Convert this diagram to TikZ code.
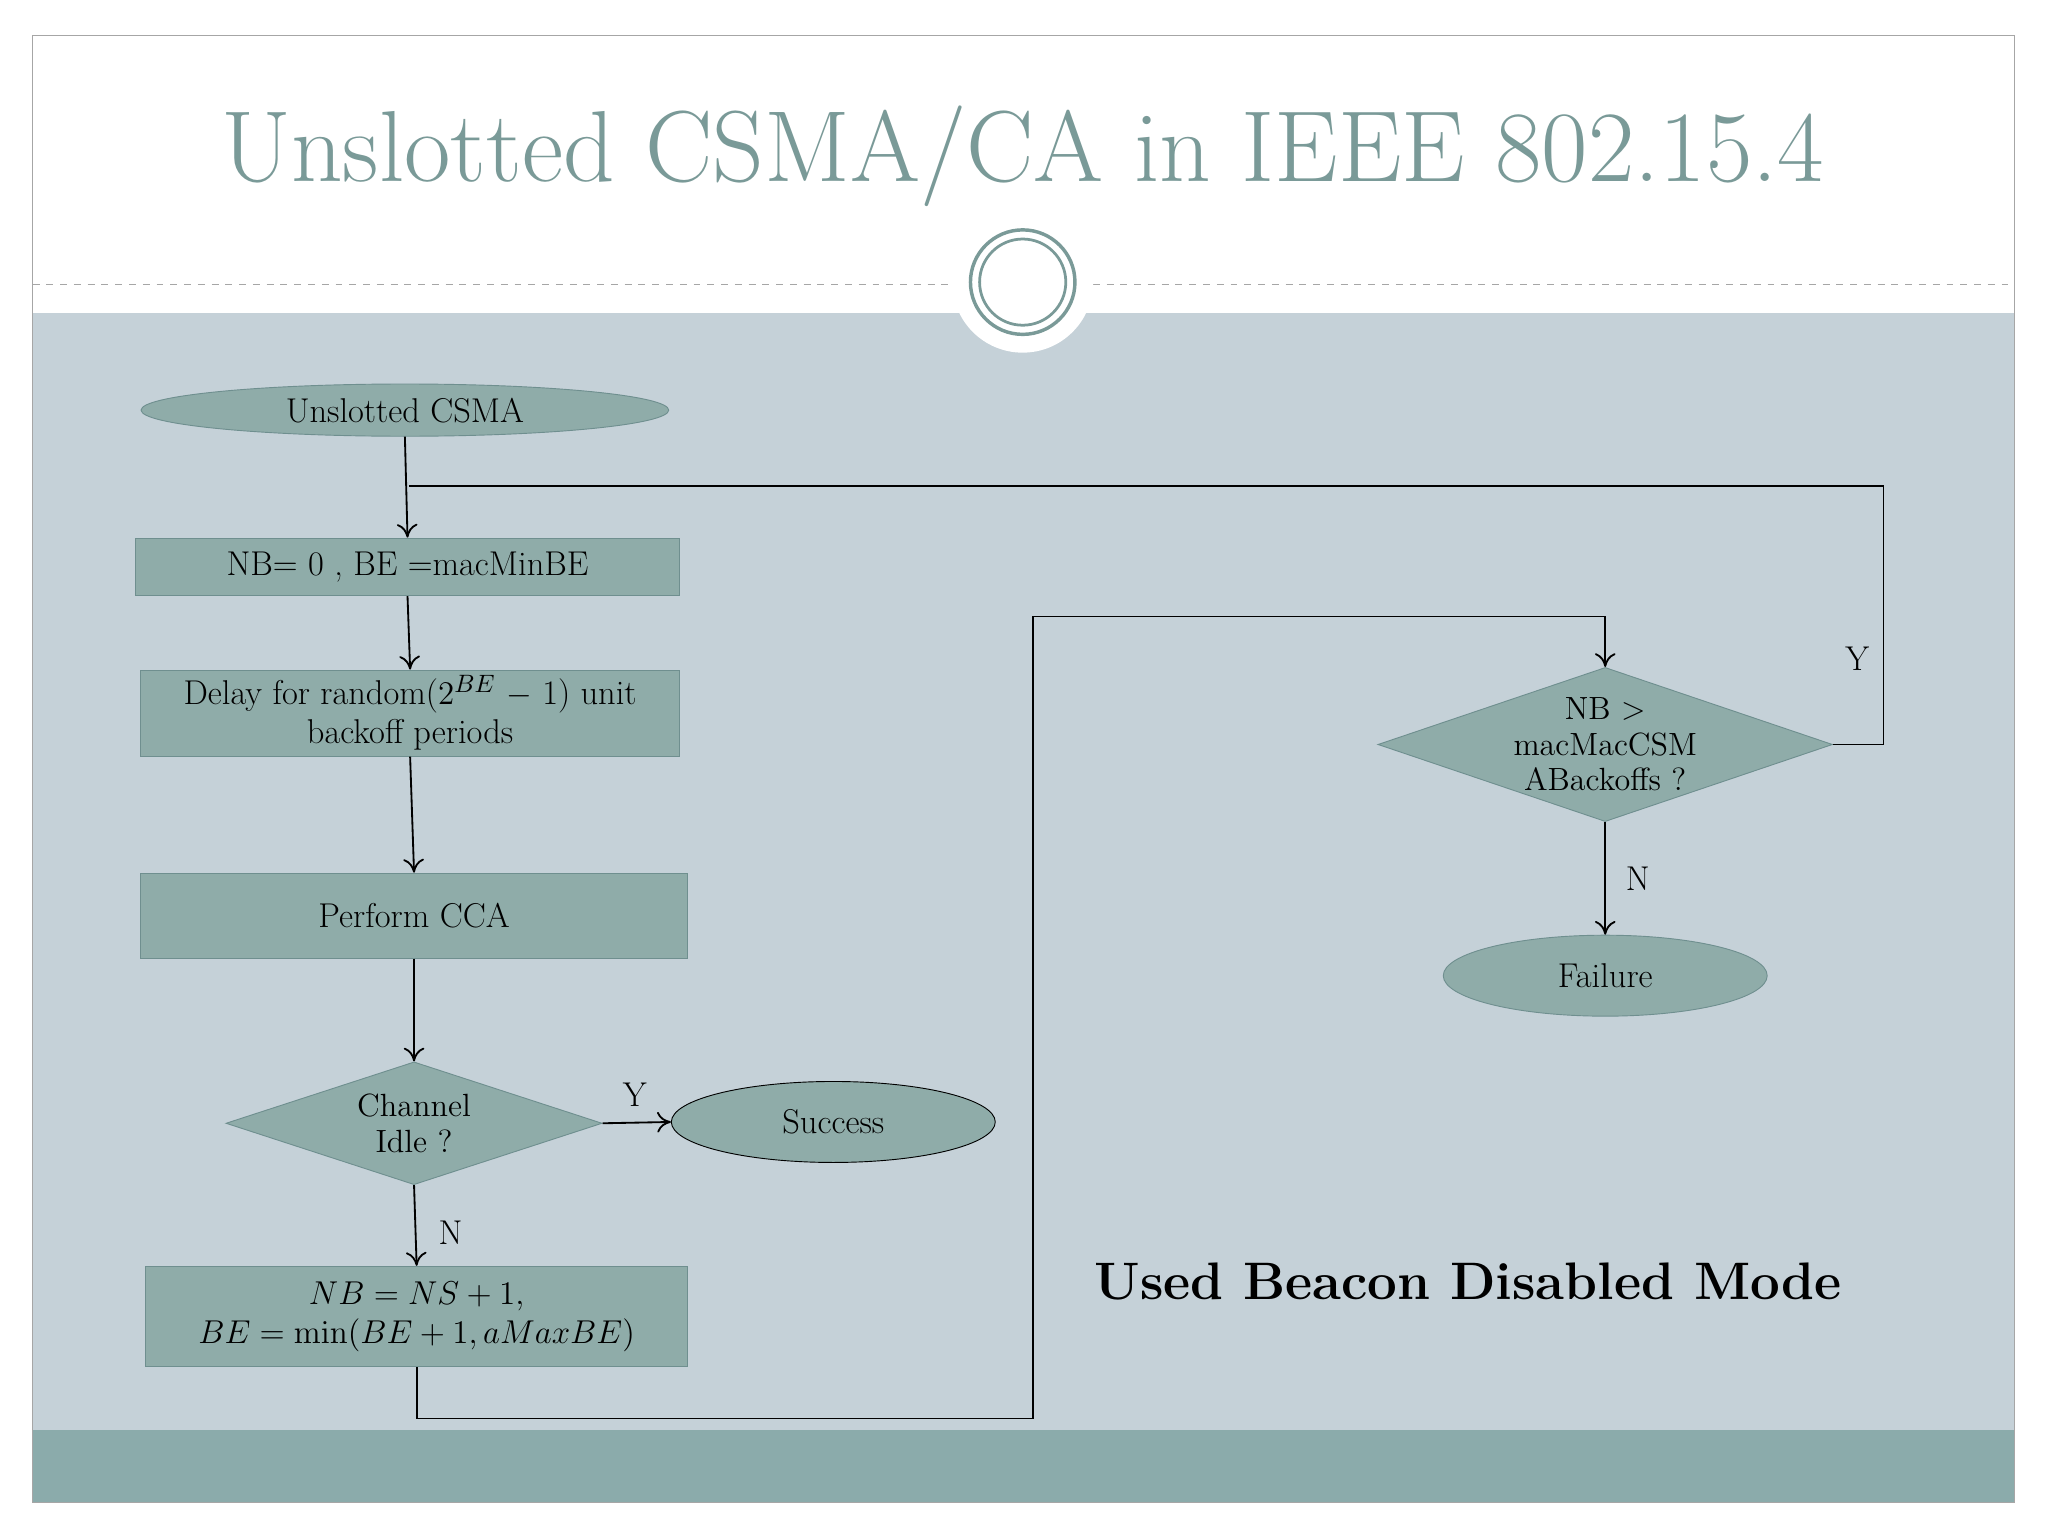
\documentclass[tikz,border=0pt]{standalone}
\usetikzlibrary{shapes.geometric,arrows.meta}
\definecolor{band}{HTML}{C5D1D8}
\definecolor{strip}{HTML}{8BABAB}
\definecolor{ttl}{HTML}{7A9A98}
\definecolor{nfill}{HTML}{8FACA9}
\definecolor{nbord}{HTML}{6F8F8F}
\begin{document}
\begin{tikzpicture}[x=0.02cm,y=-0.02cm,
  box/.style={draw=nbord,fill=nfill,rectangle,inner sep=0pt,align=center,font=\fontsize{15}{17}\selectfont},
  ell/.style={draw=nbord,fill=nfill,ellipse,inner sep=0pt,font=\fontsize{15}{17}\selectfont},
  dia/.style={draw=nbord,fill=nfill,diamond,inner sep=0pt},
  dtext/.style={align=center,font=\fontsize{14}{15.5}\selectfont},
  arr/.style={draw=black,thick,-{To[length=6pt,width=9pt]}},
  lin/.style={draw=black,thick},
  lab/.style={font=\fontsize{15}{17}\selectfont}]
\useasboundingbox (0,0) rectangle (1568,1176);
\fill[white] (0,0) rectangle (1568,1176);
\fill[band] (25,240) rectangle (1542,1095);
\fill[strip] (25,1095) rectangle (1542,1150);
\draw[gray!70] (25,27) rectangle (1542,1150);
\draw[gray!70,dashed] (25,218) -- (1542,218);
\fill[white] (783,216) circle[radius=54];
\draw[ttl,line width=1.5pt] (783,216) circle[radius=40];
\draw[ttl,line width=1.2pt] (783,216) circle[radius=33];
\node[ttl,font=\fontsize{44}{50}\selectfont] (title) at (783,120) {Unslotted CSMA/CA in IEEE 802.15.4};
\node[ell,minimum width=404*0.02cm,minimum height=40*0.02cm] (start) at (310,314) {Unslotted CSMA};
\node[box,minimum width=417*0.02cm,minimum height=44*0.02cm] (b1) at (312,434) {NB= 0 , BE =macMinBE};
\node[box,minimum width=413*0.02cm,minimum height=66*0.02cm] (b2) at (314,546) {Delay for random($2^{BE}$\ $-$ 1) unit\\backoff\ periods};
\node[box,minimum width=419*0.02cm,minimum height=65*0.02cm] (b3) at (317,701) {Perform CCA};
\node[dia,minimum width=288*0.02cm,minimum height=94*0.02cm,label={[dtext]center:Channel\\Idle ?}] (d1) at (317,860) {};
\node[ell,draw=black,minimum width=248*0.02cm,minimum height=62*0.02cm] (succ) at (638,859) {Success};
\node[box,minimum width=415*0.02cm,minimum height=77*0.02cm] (b4) at (319,1008) {$NB = NS + 1,$\\$BE = \min(BE+1, aMaxBE)$};
\node[dia,minimum width=348*0.02cm,minimum height=118*0.02cm,label={[dtext]center:NB >\\macMacCSM\\ABackoffs ?}] (d2) at (1229,570) {};
\node[ell,minimum width=248*0.02cm,minimum height=62*0.02cm] (fail) at (1229,747) {Failure};
\node[font=\fontsize{23}{27}\selectfont\bfseries] (mode) at (1124,981) {Used Beacon Disabled Mode};
\coordinate (m1) at (313,372);
\coordinate (c1) at (1442,570);
\coordinate (c2) at (1442,372);
\coordinate (c3) at (319,1086);
\coordinate (c4) at (791,1086);
\coordinate (c5) at (791,472);
\coordinate (c6) at (1229,472);
\draw[arr] (start.south) -- (b1.north);
\draw[lin] (d2.east) -- (c1) -- (c2) -- (m1);
\draw[arr] (b1.south) -- (b2.north);
\draw[arr] (b2.south) -- (b3.north);
\draw[arr] (b3.south) -- (d1.north);
\draw[arr] (d1.east) -- (succ.west);
\draw[arr] (d1.south) -- (b4.north);
\draw[lin] (b4.south) -- (c3) -- (c4) -- (c5) -- (c6);
\draw[arr] (c6) -- (d2.north);
\draw[arr] (d2.south) -- (fail.north);
\node[lab] (ly1) at (486,838) {Y};
\node[lab] (ln1) at (345,944) {N};
\node[lab] (ly2) at (1422,504) {Y};
\node[lab] (ln2) at (1254,673) {N};
\end{tikzpicture}
\end{document}
